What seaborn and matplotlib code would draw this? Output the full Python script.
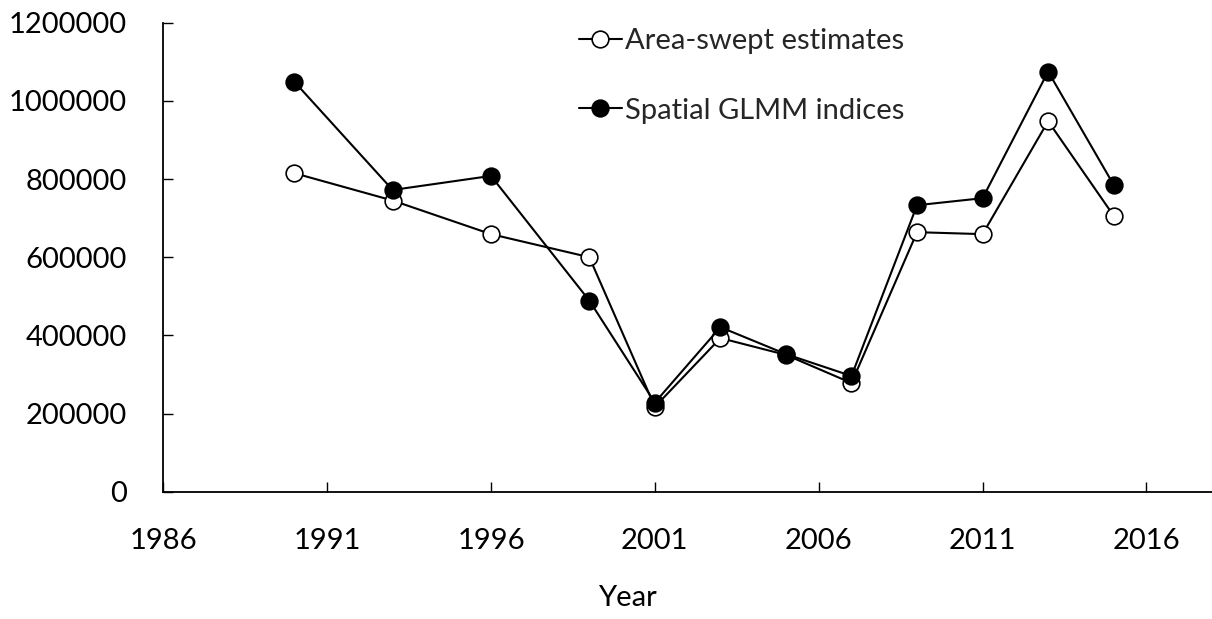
import pandas as pd
import matplotlib.pyplot as plt
import seaborn as sns

# Values
years = [1990, 1993, 1996, 1999, 2001, 2003, 2005, 2007, 2009, 2011, 2013, 2015]
area_swept = [815000, 745000, 659000, 600000, 217000, 393000, 350000, 278000,
              664000, 659000, 948000, 706000]
glmm = [1049000, 772000, 808000, 489000, 228000, 421000, 352000, 296000,
        733000, 751000, 1075000, 785000]
x_ticks = [1986, 1991, 1996, 2001, 2006, 2011, 2016]
y_ticks = [0, 200000, 400000, 600000, 800000, 1000000, 1200000]

df = pd.DataFrame({"Year": years, "Area-swept estimates": area_swept,
                   "Spatial GLMM indices": glmm})

sns.set_style("white")
plt.rcParams['font.family'] = ['Lato', 'DejaVu Sans']
plt.rcParams['xtick.direction'] = 'in'
plt.rcParams['ytick.direction'] = 'in'
plt.rcParams['xtick.bottom'] = True
plt.rcParams['ytick.left'] = True

fig = plt.figure(figsize=(12.12, 6.19), dpi=100)
ax = fig.add_axes([0.1347, 0.2057, 0.8653, 0.7576])

sns.lineplot(data=df, x="Year", y="Area-swept estimates", ax=ax, color="black",
             linewidth=1.5, marker="o", markersize=12, markerfacecolor="white",
             markeredgecolor="black", markeredgewidth=1.2,
             label="Area-swept estimates")
sns.lineplot(data=df, x="Year", y="Spatial GLMM indices", ax=ax, color="black",
             linewidth=1.5, marker="o", markersize=12, markerfacecolor="black",
             markeredgecolor="black", markeredgewidth=1.2,
             label="Spatial GLMM indices")

ax.set_xlim(1986, 2018)
ax.set_ylim(0, 1200000)
ax.set_xticks(x_ticks)
ax.set_yticks(y_ticks)
ax.set_xticklabels([str(t) for t in x_ticks])
ax.set_yticklabels([str(t) for t in y_ticks])
ax.tick_params(axis="x", which="major", direction="in", length=7, width=1,
               labelsize=21, color="black", labelcolor="black", bottom=True, pad=26)
ax.tick_params(axis="y", which="major", direction="in", length=7, width=1,
               labelsize=21, color="black", labelcolor="black", left=True, pad=26)

for s in ["top", "right"]:
    ax.spines[s].set_visible(False)
for s in ["left", "bottom"]:
    ax.spines[s].set_color("black")
    ax.spines[s].set_linewidth(1.3)

ax.set_ylabel("")
ax.set_xlabel("Year", fontsize=21, color="black")
ax.xaxis.set_label_coords((627 - 163.3) / 1048.7, -0.2)

ax.legend(loc="upper left", bbox_to_anchor=(0.371, 1.045), frameon=False,
          fontsize=21, handlelength=1.5, handletextpad=0.1, labelspacing=1.5)

fig.savefig("out.png", dpi=100)
